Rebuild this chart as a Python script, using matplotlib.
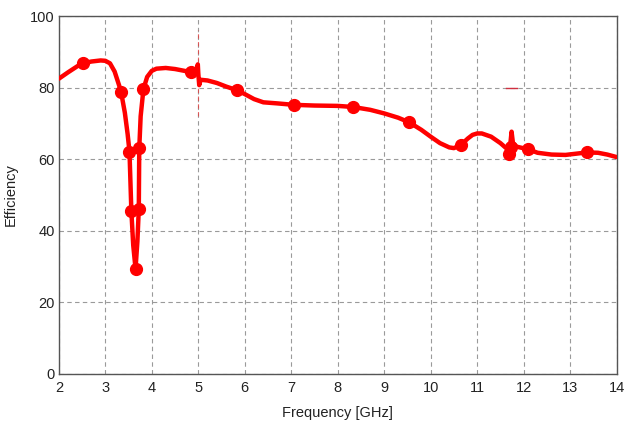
import matplotlib
matplotlib.use("Agg")
import matplotlib.pyplot as plt

plt.rcParams.update({
    "font.family": ["Liberation Sans", "DejaVu Sans"],
    "font.size": 10,
})

# efficiency curve (GHz, %)
freq = [2.0, 2.2, 2.4, 2.52, 2.7, 2.9, 3.0, 3.1, 3.2, 3.3, 3.34, 3.42, 3.48,
        3.52, 3.56, 3.60, 3.65, 3.69, 3.72, 3.73, 3.76, 3.82, 3.9, 4.0, 4.1,
        4.3, 4.5, 4.7, 4.84, 4.95, 4.99, 5.0, 5.02, 5.05, 5.2, 5.4, 5.6, 5.83,
        6.0, 6.2, 6.4, 6.7, 7.05, 7.5, 8.0, 8.33, 8.7, 9.0, 9.3, 9.54, 9.8,
        10.0, 10.2, 10.4, 10.5, 10.65, 10.8, 10.9, 11.0, 11.1, 11.3, 11.5,
        11.65, 11.7, 11.74, 11.77, 11.85, 12.09, 12.3, 12.6, 12.9, 13.1,
        13.36, 13.6, 13.8, 14.0]
eff = [82.5, 84.3, 86.0, 86.8, 87.3, 87.6, 87.5, 86.8, 84.5, 80.5, 78.7, 73.0,
       67.0, 62.1, 45.5, 36.0, 29.4, 37.0, 46.0, 63.0, 72.0, 79.6, 83.0, 84.7,
       85.3, 85.5, 85.2, 84.7, 84.3, 84.3, 86.5, 84.0, 80.7, 82.2, 82.0, 81.3,
       80.3, 79.3, 78.2, 76.8, 75.9, 75.6, 75.2, 75.0, 74.9, 74.6, 73.8, 72.8,
       71.6, 70.3, 68.2, 66.3, 64.5, 63.3, 63.1, 64.0, 65.8, 66.8, 67.2, 67.2,
       66.3, 64.5, 62.8, 62.5, 67.7, 64.5, 63.5, 62.8, 61.8, 61.3, 61.2, 61.5,
       61.9, 61.8, 61.3, 60.6]

# measured points (markers)
mark_freq = [2.52, 3.34, 3.52, 3.73, 3.56, 3.72, 3.65, 3.82, 4.84, 5.83,
             7.05, 8.33, 9.54, 10.65, 11.68, 11.72, 12.09, 13.36]
mark_eff = [86.8, 78.7, 62.1, 63.0, 45.5, 46.0, 29.4, 79.6, 84.3, 79.3,
            75.2, 74.6, 70.3, 64.0, 61.4, 63.5, 62.8, 61.9]

xticks = list(range(2, 15))
yticks = [0, 20, 40, 60, 80, 100]

fig = plt.figure(figsize=(6.26, 4.23), dpi=100)
ax = fig.add_axes([0.094, 0.116, 0.891, 0.846])

ax.grid(True, color="#9a9a9a", linestyle=(0, (4, 3)), linewidth=0.8)
ax.set_axisbelow(True)

# stray red bits in the original
ax.plot([5, 5], [72, 96], color="#e04040", linestyle=(0, (4, 3)), lw=0.8, alpha=0.8)
ax.plot([11.63, 11.86], [80, 80], color="#d03040", lw=1.0)

ax.plot(freq, eff, color="#ff0000", lw=3.2, solid_capstyle="round",
        solid_joinstyle="round", zorder=3)
ax.plot(mark_freq, mark_eff, "o", color="#ff0000", markersize=8.5, zorder=4)

ax.set_xlim(2, 14)
ax.set_ylim(0, 100)
ax.set_xticks(xticks)
ax.set_yticks(yticks)
ax.tick_params(direction="in", length=0, labelsize=10.5, colors="#222222")
ax.tick_params(axis="x", pad=5)
ax.tick_params(axis="y", pad=3)
for s in ax.spines.values():
    s.set_color("#555555")
    s.set_linewidth(1.0)

ax.set_xlabel("Frequency [GHz]", fontsize=10.5, color="#222222", labelpad=8)
ax.set_ylabel("Efficiency", fontsize=10.5, color="#222222", labelpad=9)

fig.savefig("out.png", dpi=100)
